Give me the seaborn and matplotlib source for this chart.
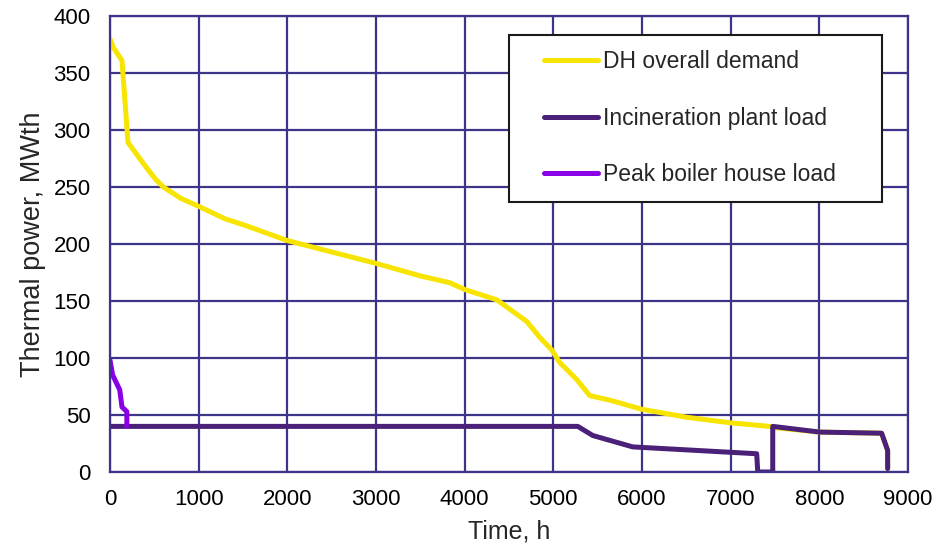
import matplotlib
matplotlib.use("Agg")
import matplotlib.pyplot as plt
from matplotlib.patches import Rectangle
import seaborn as sns
import pandas as pd

# DH overall demand (load duration curve)
dh_hours = [0, 40, 135, 203, 372, 500, 600, 800, 1000, 1300, 1500, 2000, 2500, 3000,
            3500, 3833, 4002, 4363, 4701, 4848, 4983, 5073, 5265, 5411, 5637, 6000,
            6505, 7012, 7441, 7480, 8005, 8703, 8771, 8771]
dh_power = [380, 372, 361, 289, 271, 258, 250, 240, 233, 222, 217, 203, 193, 183,
            172, 166, 160, 151, 132, 118, 107, 96, 81, 67, 63, 55,
            48, 43, 40, 39, 35, 34, 19, 3]

# Incineration plant load
inc_hours = [0, 5276, 5445, 5896, 7294, 7306, 7475, 7475, 8005, 8703, 8771, 8771]
inc_power = [40, 40, 32, 22, 16, 0, 0, 40, 35, 34, 19, 3]

# Peak boiler house load
pb_hours = [0, 30, 110, 135, 190, 190]
pb_power = [98, 85, 72, 57, 53, 40]

sns.set_style("white")
plt.rcParams["font.family"] = ["Liberation Sans", "DejaVu Sans"]

fig = plt.figure(figsize=(9.37, 5.51), dpi=100)
ax = fig.add_axes([0.1174, 0.1434, 0.969 - 0.1174, 0.971 - 0.1434])

grid_c = "#3C3489"
dh_df = pd.DataFrame({"h": dh_hours, "p": dh_power})
inc_df = pd.DataFrame({"h": inc_hours, "p": inc_power})
pb_df = pd.DataFrame({"h": pb_hours, "p": pb_power})

lw = 3.6
sns.lineplot(data=dh_df, x="h", y="p", ax=ax, color="#F7E400", lw=lw,
             estimator=None, sort=False, label="DH overall demand")
sns.lineplot(data=inc_df, x="h", y="p", ax=ax, color="#4B2079", lw=lw,
             estimator=None, sort=False, label="Incineration plant load")
sns.lineplot(data=pb_df, x="h", y="p", ax=ax, color="#8A00E6", lw=lw,
             estimator=None, sort=False, label="Peak boiler house load")

ax.set_xlim(0, 9000)
ax.set_ylim(0, 400)
ax.set_xticks(range(0, 9001, 1000))
ax.set_yticks(range(0, 401, 50))
ax.grid(True, color=grid_c, lw=1.6)
ax.set_axisbelow(True)
for s in ax.spines.values():
    s.set_color(grid_c)
    s.set_linewidth(1.6)
ax.tick_params(axis="both", labelsize=16, colors="black", length=0)
ax.tick_params(axis="y", pad=14)
ax.tick_params(axis="x", pad=12)
ax.set_xlabel("Time, h", fontsize=18)
ax.set_ylabel("Thermal power, MWth", fontsize=19.5)
ax.xaxis.set_label_coords(0.5, -0.105)
ax.yaxis.set_label_coords(-0.08, 0.5)

# legend box
ax.add_patch(Rectangle((0.5, 0.592), 0.467, 0.366, transform=ax.transAxes,
                       facecolor="white", edgecolor="#1a1a1a", lw=1.5, zorder=5))
leg = ax.legend(loc="center left", bbox_to_anchor=(0.544, 0.776),
                fontsize=16.5, frameon=False, handlelength=2.35,
                handletextpad=0.22, labelspacing=1.45,
                borderpad=0, borderaxespad=0)
leg.set_zorder(6)

fig.savefig("out.png", dpi=100)
